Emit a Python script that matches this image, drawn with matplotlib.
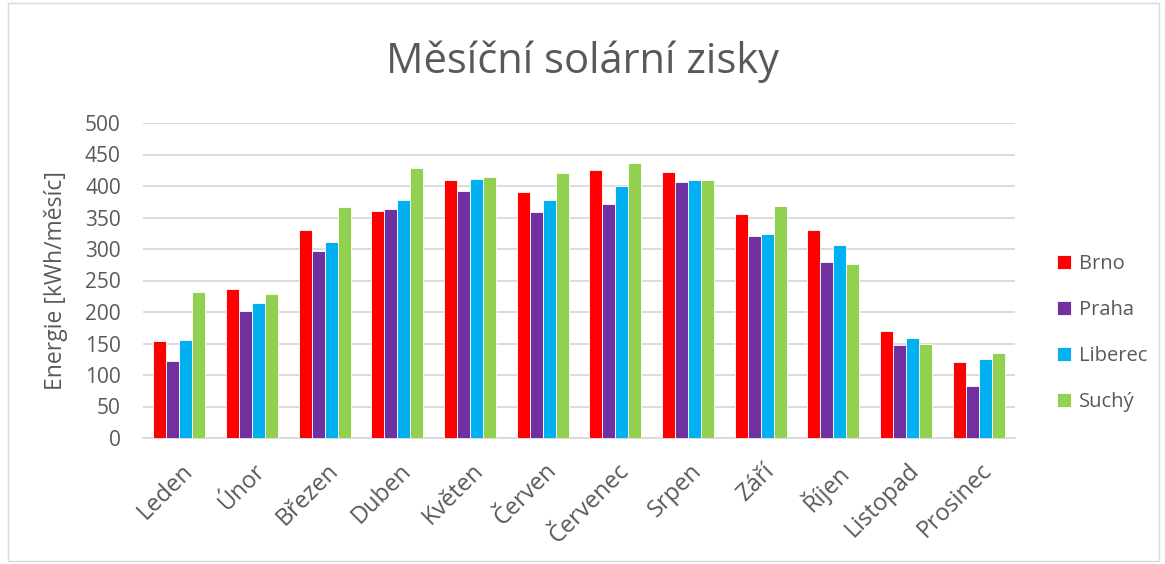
import numpy as np
import matplotlib.pyplot as plt
from matplotlib.patches import Rectangle

months = ["Leden", "Únor", "Březen", "Duben", "Květen", "Červen", "Červenec",
          "Srpen", "Září", "Říjen", "Listopad", "Prosinec"]
brno = [154, 236, 330, 361, 410, 390, 425, 423, 355, 330, 170, 121]
praha = [123, 201, 297, 363, 392, 358, 372, 406, 321, 280, 148, 83]
liberec = [156, 214, 311, 377, 411, 377, 400, 409, 324, 307, 158, 125]
suchy = [231, 229, 366, 428, 415, 421, 437, 410, 368, 276, 150, 135]
series = ["Brno", "Praha", "Liberec", "Suchý"]
colors = ["#FF0000", "#7030A0", "#00B0F0", "#92D050"]

plt.rcParams["font.family"] = ["Open Sans", "DejaVu Sans"]
text_col = "#595959"

fig = plt.figure(figsize=(11.65, 5.64), dpi=100)
ax = fig.add_axes([143 / 1165, 1 - 438 / 564, (1015 - 143) / 1165, (438 - 123) / 564])

x = np.arange(len(months))
w = 0.18
for i, (vals, name, c) in enumerate(zip([brno, praha, liberec, suchy], series, colors)):
    ax.bar(x + (i - 1.5) * w, vals, width=w, color=c, edgecolor="white",
           linewidth=0.6, label=name, zorder=3)

ax.set_xlim(-0.5, len(months) - 0.5)
ax.set_ylim(0, 500)
ax.set_yticks(range(0, 501, 50))
ax.grid(axis="y", color="#D9D9D9", linewidth=1.3, zorder=0)
for s in ["top", "right", "left"]:
    ax.spines[s].set_visible(False)
ax.spines["bottom"].set_color("#D9D9D9")
ax.spines["bottom"].set_linewidth(1.3)
ax.tick_params(axis="both", length=0, colors=text_col)
ax.tick_params(axis="y", pad=16, labelsize=15)
ax.tick_params(axis="x", pad=15)
ax.set_xticks(x + 0.02)
ax.set_xticklabels(months, rotation=45, ha="right", rotation_mode="anchor",
                   fontsize=17, color=text_col)
ax.set_ylabel("Energie [kWh/měsíc]", fontsize=16.5, color=text_col, labelpad=12)

fig.text(0.5, 1 - 62 / 564, "Měsíční solární zisky", fontsize=30, color=text_col,
         ha="center", va="center")

handles, labels = ax.get_legend_handles_labels()
fig.legend(handles, labels, loc="center left", bbox_to_anchor=(1039 / 1165, 1 - 333 / 564),
           bbox_transform=fig.transFigure, frameon=False, fontsize=14.5,
           labelcolor=text_col, handlelength=0.7, handleheight=0.7,
           labelspacing=1.3, handletextpad=0.4)

fig.patches.append(Rectangle((8 / 1165, 3 / 564), 1151 / 1165, 558 / 564,
                             transform=fig.transFigure, fill=False,
                             edgecolor="#D9D9D9", linewidth=1))

fig.savefig("out.png", dpi=100)
